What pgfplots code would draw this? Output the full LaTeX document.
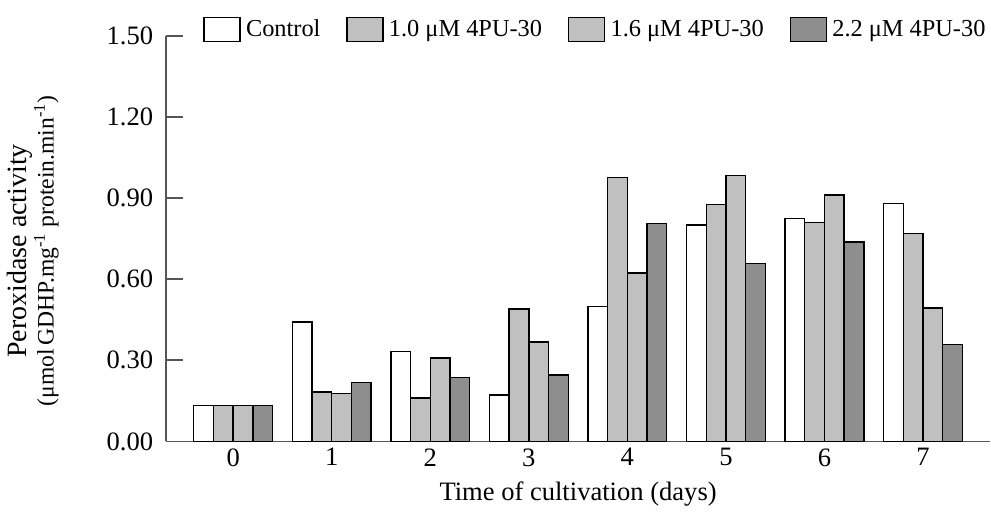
\documentclass[border=0pt]{standalone}
\usepackage{pgfplots}
\pgfplotsset{compat=1.18}
\usepackage{fontspec}
\setmainfont{Liberation Serif}
\definecolor{lg}{HTML}{C0C0C0}
\definecolor{dg}{HTML}{8E8E8E}
\definecolor{ax}{HTML}{555555}
\begin{document}
\begin{tikzpicture}
\begin{axis}[
  name=ax,
  scale only axis, width=412.5pt, height=203pt,
  xmin=-0.68, xmax=7.68, ymin=0, ymax=1.5,
  axis x line*=bottom, axis y line*=left,
  axis line style={line width=0.8pt, draw=ax, -},
  ybar=0pt, bar width=0.2,
  xtick={0,1,2,3,4,5,6,7},
  x tick style={draw=none},
  ytick={0,0.3,0.6,0.9,1.2,1.5},
  y tick style={line width=0.8pt, draw=ax},
  tick align=inside, major tick length=8.5pt,
  yticklabel style={/pgf/number format/.cd, fixed, fixed zerofill, precision=2, /tikz/.cd, xshift=-3pt},
  /pgf/number format/assume math mode=true,
  ticklabel style={font=\fontsize{13.3}{13.3}\selectfont},
  xlabel={Time of cultivation (days)},
  xlabel style={font=\fontsize{13.3}{14}\selectfont, at={(axis description cs:0.5,-0.13)}, anchor=center},
  ylabel={{\fontsize{14}{14}\selectfont Peroxidase activity}\\{\fontsize{11.8}{12}\selectfont (μmol\,GDHP.mg\textsuperscript{-1} protein.min\textsuperscript{-1})}},
  ylabel style={align=center, at={(axis description cs:-0.162,0.47)}, anchor=center},
  legend columns=4,
  legend style={draw=none, fill=none, inner sep=0pt, at={(axis description cs:0.0448,1.0155)}, anchor=west,
    font=\fontsize{12.2}{12}\selectfont,
    nodes={inner sep=0pt},
    /tikz/every even column/.append style={column sep=13pt}},
  legend image code/.code={\draw[#1, line width=0.6pt] (0pt,-6pt) rectangle (18pt,6pt); \path[draw=none, fill=none] (0pt,0pt) -- (21pt,0pt);},
]
\addplot[fill=white, draw=black, line width=0.7pt] coordinates {(0,0.133) (1,0.441) (2,0.333) (3,0.171) (4,0.498) (5,0.801) (6,0.824) (7,0.880)};
\addplot[fill=lg, draw=black, line width=0.7pt] coordinates {(0,0.133) (1,0.183) (2,0.160) (3,0.490) (4,0.976) (5,0.876) (6,0.809) (7,0.768)};
\addplot[fill=lg, draw=black, line width=0.7pt] coordinates {(0,0.133) (1,0.176) (2,0.308) (3,0.367) (4,0.623) (5,0.984) (6,0.912) (7,0.493)};
\addplot[fill=dg, draw=black, line width=0.7pt] coordinates {(0,0.133) (1,0.217) (2,0.237) (3,0.245) (4,0.806) (5,0.659) (6,0.738) (7,0.358)};
\legend{Control, 1.0 μM 4PU-30, 1.6 μM 4PU-30, 2.2 μM 4PU-30}
\end{axis}
\path[use as bounding box] ([shift={(-82.5pt,-35.5pt)}]ax.south west) rectangle ([shift={(0.5pt,18pt)}]ax.north east);
\end{tikzpicture}
\end{document}
